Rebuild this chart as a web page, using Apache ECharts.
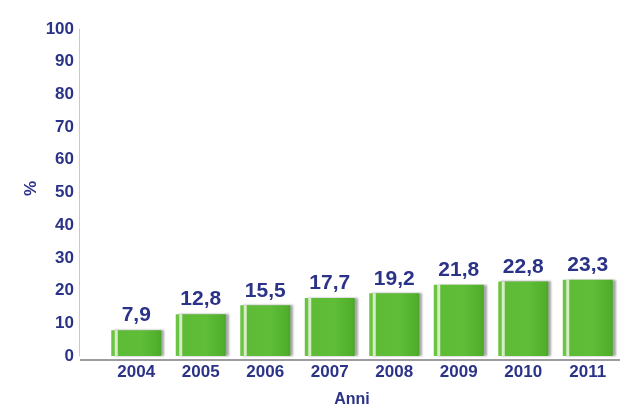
<!DOCTYPE html>
<html><head><meta charset="utf-8">
<script src="https://cdn.jsdelivr.net/npm/echarts@6/dist/echarts.min.js"></script>
<style>html,body{margin:0;padding:0;background:#fff}#c{width:635px;height:413px}</style>
</head><body><div id="c"></div>
<script>
var categories = ['2004','2005','2006','2007','2008','2009','2010','2011'];
var values = [7.9, 12.8, 15.5, 17.7, 19.2, 21.8, 22.8, 23.3];
var yTicks = [0,10,20,30,40,50,60,70,80,90,100];
var navy = '#2b3388';
var chart = echarts.init(document.getElementById('c'));
var barColor = new echarts.graphic.LinearGradient(0,0,1,0,[
  {offset:0,color:'#6cc444'},
  {offset:0.06,color:'#6cc444'},
  {offset:0.08,color:'#d6eec6'},
  {offset:0.12,color:'#d6eec6'},
  {offset:0.14,color:'#5dbb35'},
  {offset:0.6,color:'#5fbd38'},
  {offset:0.95,color:'#4fae2b'},
  {offset:1,color:'#4aa528'}
]);
chart.setOption({
  backgroundColor:'#ffffff',
  animation:false,
  grid:{left:104,right:15,top:29,bottom:54},
  xAxis:{type:'category',data:categories,
    axisLine:{show:false},axisTick:{show:false},
    axisLabel:{color:navy,fontFamily:'Liberation Sans',fontWeight:'bold',fontSize:17,margin:8},
    name:'Anni',nameLocation:'middle',nameGap:36,
    nameTextStyle:{color:navy,fontFamily:'Liberation Sans',fontWeight:'bold',fontSize:16,padding:[0,20,0,0]}},
  yAxis:{type:'value',min:0,max:100,interval:10,offset:25,
    axisLine:{show:true,lineStyle:{color:'#c8c8d0',width:1}},
    axisTick:{show:false},splitLine:{show:false},
    axisLabel:{color:navy,fontFamily:'Liberation Sans',fontWeight:'bold',fontSize:17,margin:5,
      formatter:function(v){return yTicks.indexOf(v)>=0?String(v):'';}},
    name:'%',nameLocation:'middle',nameGap:39,nameRotate:90,nameMoveOverlap:false,
    nameTextStyle:{color:navy,fontFamily:'Liberation Sans',fontWeight:'bold',fontSize:17,padding:[0,0,0,8]}},
  graphic:[{type:'line',shape:{x1:80,y1:360,x2:620,y2:360},style:{stroke:'#7a7a80',lineWidth:1.5}}],
  series:[{type:'bar',data:values,barWidth:50,
    itemStyle:{color:barColor,shadowColor:'rgba(0,0,0,0.35)',shadowBlur:2,shadowOffsetX:3,shadowOffsetY:0},
    label:{show:true,position:'top',distance:4,color:navy,fontFamily:'Liberation Sans',fontWeight:'bold',fontSize:21,
      formatter:function(p){return String(p.value).replace('.',',');}}
  }]
});
</script></body></html>
